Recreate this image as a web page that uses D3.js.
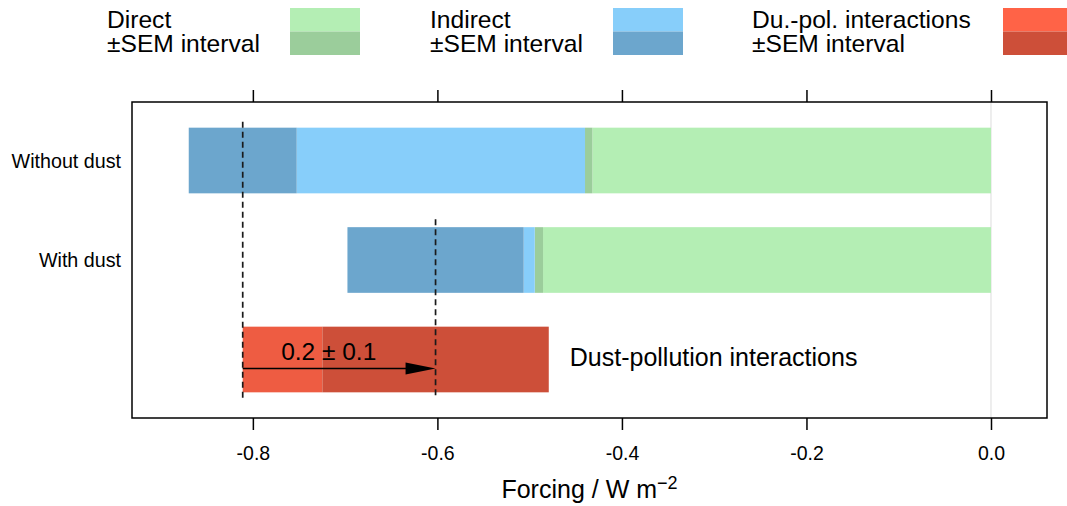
<!DOCTYPE html>
<html>
<head>
<meta charset="utf-8">
<script src="https://cdn.jsdelivr.net/npm/d3@7"></script>
<style>
  body { margin: 0; background: #fff; }
  text { font-family: "Liberation Sans", Arial, sans-serif; fill: #000; }
</style>
</head>
<body>
<div class="chart"></div>
<script>
// values (W m-2)
const categories = ['Without dust', 'With dust', 'Dust-pollution interactions'];
const direct = [-0.436, -0.490];
const directSem = [0.004, 0.0045];
const total = [-0.811, -0.602];
const totalSem = [0.0585, 0.0955];
const interaction = 0.209;
const interactionSem = 0.1227;
const xTicks = [-0.8, -0.6, -0.4, -0.2, 0.0];
const legendItems = ['Direct', 'Indirect', 'Du.-pol. interactions'];

const colors = {
	direct: '#b4eeb4', directSem: '#9bcd9b',
	indirect: '#87cefa', indirectSem: '#6ca6cd',
	inter: '#ee5c42', interSem: '#cd4f39'
};
const legendColors = [['#b4eeb4', '#9bcd9b'], ['#87cefa', '#6ca6cd'], ['#ff6347', '#cd4f39']];

const W = 1067, H = 506;
const box = {left: 132, right: 1047, top: 102, bottom: 418};

const svg = d3.select('.chart').append('svg')
	.attr('width', W)
	.attr('height', H);

const xScale = d3.scaleLinear()
	.domain([-0.931, 0.0607])
	.range([box.left, box.right]);

const yScale = d3.scaleBand()
	.domain(categories)
	.range([box.top, box.bottom])
	.paddingInner(0.34)
	.paddingOuter(0.258);

// zero line
svg.append('line')
	.attr('x1', xScale(0)).attr('x2', xScale(0))
	.attr('y1', box.top).attr('y2', box.bottom)
	.attr('stroke', '#e8e8e8')
	.attr('stroke-width', 1.5);

// segments for the stacked bars
const segs = [];
for (let i = 0; i < 2; i++) {
	const c = categories[i];
	segs.push({cat: c, a: 0, b: direct[i] + directSem[i], fill: colors.direct});
	segs.push({cat: c, a: direct[i] + directSem[i], b: direct[i] - directSem[i], fill: colors.directSem});
	segs.push({cat: c, a: direct[i] - directSem[i], b: total[i] + totalSem[i], fill: colors.indirect});
	segs.push({cat: c, a: total[i] + totalSem[i], b: total[i] - totalSem[i], fill: colors.indirectSem});
}
const interEnd = total[0] + interaction;
segs.push({cat: categories[2], a: total[0], b: interEnd - interactionSem, fill: colors.inter});
segs.push({cat: categories[2], a: interEnd - interactionSem, b: interEnd + interactionSem, fill: colors.interSem});

svg.selectAll('.seg')
	.data(segs)
	.enter()
	.append('rect')
	.attr('class', 'seg')
	.attr('x', d => xScale(Math.min(d.a, d.b)))
	.attr('width', d => Math.abs(xScale(d.a) - xScale(d.b)))
	.attr('y', d => yScale(d.cat))
	.attr('height', yScale.bandwidth())
	.attr('fill', d => d.fill);

// dashed reference lines at the totals
const lowY = yScale(categories[2]) + yScale.bandwidth() + 6;
svg.append('line')
	.attr('x1', xScale(total[0])).attr('x2', xScale(total[0]))
	.attr('y1', yScale(categories[0]) - 6).attr('y2', lowY)
	.attr('stroke', '#1a1a1a').attr('stroke-width', 1.7)
	.attr('stroke-dasharray', '6,4');
svg.append('line')
	.attr('x1', xScale(interEnd)).attr('x2', xScale(interEnd))
	.attr('y1', yScale(categories[1]) - 8).attr('y2', lowY)
	.attr('stroke', '#1a1a1a').attr('stroke-width', 1.7)
	.attr('stroke-dasharray', '6,4');

// arrow
const arrowY = yScale(categories[2]) + yScale.bandwidth() / 2 + 9;
const x0 = xScale(total[0]), x1 = xScale(interEnd);
svg.append('line')
	.attr('x1', x0).attr('x2', x1 - 20)
	.attr('y1', arrowY).attr('y2', arrowY)
	.attr('stroke', '#000').attr('stroke-width', 1.5);
svg.append('path')
	.attr('d', `M${x1},${arrowY} L${x1 - 30},${arrowY - 6} L${x1 - 30},${arrowY + 6} Z`)
	.attr('fill', '#000');

svg.append('text')
	.attr('x', x0 + 86)
	.attr('y', arrowY - 8)
	.attr('text-anchor', 'middle')
	.attr('font-size', 24.5)
	.text(interaction.toFixed(1) + ' \u00b1 ' + interactionSem.toFixed(1));

svg.append('text')
	.attr('x', xScale(interEnd + interactionSem) + 21)
	.attr('y', arrowY - 2)
	.attr('font-size', 25)
	.text('Dust-pollution interactions');

// y labels
svg.selectAll('.ylab')
	.data(categories.slice(0, 2))
	.enter()
	.append('text')
	.attr('class', 'ylab')
	.attr('x', 121)
	.attr('y', d => yScale(d) + yScale.bandwidth() / 2)
	.attr('dy', '0.36em')
	.attr('text-anchor', 'end')
	.attr('font-size', 19.7)
	.text(d => d);

// box
svg.append('rect')
	.attr('x', box.left).attr('y', box.top)
	.attr('width', box.right - box.left)
	.attr('height', box.bottom - box.top)
	.attr('fill', 'none')
	.attr('stroke', '#000')
	.attr('stroke-width', 1.5);

// axes
const xAxis = d3.axisBottom(xScale)
	.tickValues(xTicks)
	.tickSize(12)
	.tickPadding(16)
	.tickFormat(d => d.toFixed(1));

const xAxisTop = d3.axisTop(xScale)
	.tickValues(xTicks)
	.tickSize(12)
	.tickFormat('');

const gb = svg.append('g')
	.attr('transform', `translate(0, ${box.bottom})`)
	.call(xAxis);
const gt = svg.append('g')
	.attr('transform', `translate(0, ${box.top})`)
	.call(xAxisTop);

[gb, gt].forEach(g => {
	g.select('.domain').remove();
	g.selectAll('line').attr('stroke', '#000').attr('stroke-width', 1.5);
	g.selectAll('text')
		.attr('font-size', 19.5)
		.attr('font-family', '"Liberation Sans", Arial, sans-serif')
		.attr('fill', '#000');
});

const title = svg.append('text')
	.attr('x', (box.left + box.right) / 2)
	.attr('y', 498)
	.attr('text-anchor', 'middle')
	.attr('font-size', 25);
title.append('tspan').text('Forcing / W m');
title.append('tspan').attr('font-size', 18).attr('dy', -9).text('\u22122');

// legend
const legendTextX = [107, 430, 752];
const legendBoxX = [290, 613, 1003];

legendItems.forEach((name, i) => {
	svg.append('text')
		.attr('x', legendTextX[i]).attr('y', 28)
		.attr('font-size', 24.6)
		.text(name);
	svg.append('text')
		.attr('x', legendTextX[i]).attr('y', 52)
		.attr('font-size', 24.6)
		.text('\u00b1SEM interval');
	svg.append('rect')
		.attr('x', legendBoxX[i]).attr('y', 8)
		.attr('width', 70).attr('height', 23.5)
		.attr('fill', legendColors[i][0]);
	svg.append('rect')
		.attr('x', legendBoxX[i]).attr('y', 31.5)
		.attr('width', 70).attr('height', 23.5)
		.attr('fill', legendColors[i][1]);
});
</script>
</body>
</html>
